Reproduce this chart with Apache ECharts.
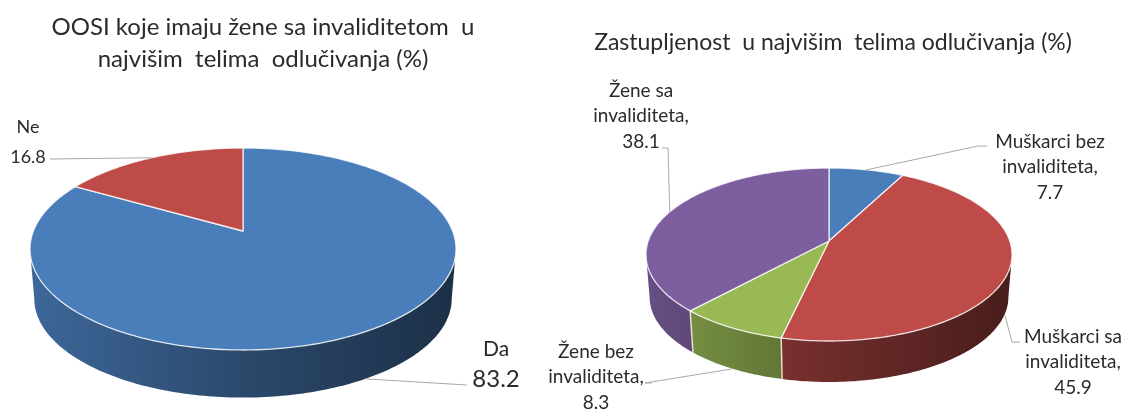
<!DOCTYPE html>
<html><head><meta charset="utf-8">
<style>html,body{margin:0;padding:0;background:#fff}#c{width:1125px;height:410px}</style>
<script src="https://cdn.jsdelivr.net/npm/echarts@6/dist/echarts.min.js"></script>
</head><body><div id="c"></div>
<script>
const leftCategories = ['Da', 'Ne'];
const leftValues = [83.2, 16.8];
const leftColors = ['#4A7EBB', '#BE4B48'];
const rightCategories = ['Muškarci bez\ninvaliditeta,', 'Muškarci sa\ninvaliditeta,', 'Žene bez\ninvaliditeta,', 'Žene sa\ninvaliditeta,'];
const rightValues = [7.7, 45.9, 8.3, 38.1];
const rightColors = ['#4A7EBB', '#BE4B48', '#98B954', '#7D5FA0'];
const leftTitle = 'OOSI koje imaju žene sa invaliditetom  u\nnajvišim  telima  odlučivanja (%)';
const rightTitle = 'Zastupljenost  u najvišim  telima odlučivanja (%)';

const FONT = 'Lato, "Open Sans", sans-serif';
const TXT = '#2b2b2b', LINE = '#a8a8a8';

const leftPie = {cx:243, cy:231, a:209.6, b:97.8, k:0.178, d:50, s:0.98};
const rightPie = {cx:829, cy:241, a:180.8, b:84.4, k:0.156, d:43, s:0.98};

// label placement & leader elbows per slice
const leftLabels = [
  {x:496, y:364, custom:[{t:'Da',size:21,dy:-15},{t:'83.2',size:24,dy:15}], path:[[467,385]]},
  {x:28, y:142, custom:[{t:'Ne',size:18,dy:-15},{t:'16.8',size:18,dy:15}], path:[[50,159]]}
];
const rightLabels = [
  {x:1050, y:167, path:[[987,146],[978,146]]},
  {x:1073, y:362, path:[[1020,342],[1012,342]]},
  {x:596, y:377, path:[[652,383],[645,383]]},
  {x:641, y:116, path:[[662,148],[668,148]]}
];

function proj(p, frac, bottom) {
  const t = frac * 2 * Math.PI, u = Math.sin(t), v = -Math.cos(t), w = 1 - p.k * v;
  const x = p.a * u / w, y = p.b * v / w;
  return bottom ? [p.cx + x * p.s, p.cy + y * p.s + p.d] : [p.cx + x, p.cy + y];
}
function arc(p, f0, f1, bottom) {
  const n = Math.max(2, Math.ceil((f1 - f0) * 360)), out = [];
  for (let i = 0; i <= n; i++) out.push(proj(p, f0 + (f1 - f0) * i / n, bottom));
  return out;
}
function shade(hex, m) {
  const n = parseInt(hex.slice(1), 16);
  return 'rgb(' + [(n >> 16) & 255, (n >> 8) & 255, n & 255].map(c => Math.round(c * m)).join(',') + ')';
}
function spans(values) {
  const total = values.reduce((a, b) => a + b, 0);
  let acc = 0;
  return values.map(v => { const f0 = acc / total; acc += v; return [f0, acc / total]; });
}
function frontRange(p, f0, f1) { // visible part of the wall, between the two silhouette points
  const lo = Math.acos(-p.k) / (2 * Math.PI), hi = 1 - lo;
  const a = Math.max(f0, lo), b = Math.min(f1, hi);
  return a < b ? [a, b] : null;
}
function wallSeries(p, values, colors) {
  const sp = spans(values);
  return {
    type:'custom', coordinateSystem:'none', silent:true, z:2, animation:false, data:values,
    renderItem(params) {
      const i = params.dataIndex, r = frontRange(p, sp[i][0], sp[i][1]);
      if (!r) return {type:'group', children:[]};
      const poly = arc(p, r[0], r[1], false).concat(arc(p, r[0], r[1], true).reverse());
      const c = colors[i], kids = [{
        type:'polygon', shape:{points:poly},
        style:{fill:{type:'linear', global:true, x:p.cx - p.a, y:0, x2:p.cx + p.a, y2:0,
          colorStops:[{offset:0, color:shade(c, .82)}, {offset:.5, color:shade(c, .58)}, {offset:1, color:shade(c, .38)}]}}
      }];
      if (sp[i][0] > 0.25 && sp[i][0] < 0.75) kids.push({type:'polyline',
        shape:{points:[proj(p, sp[i][0], false), proj(p, sp[i][0], true)]},
        style:{stroke:'rgba(255,250,225,.8)', lineWidth:1.5, fill:null}});
      return {type:'group', children:kids};
    }
  };
}
function topSeries(p, values, colors) {
  const sp = spans(values);
  return {
    type:'custom', coordinateSystem:'none', silent:true, z:3, animation:false, data:values,
    renderItem(params) {
      const i = params.dataIndex;
      const pts = [[p.cx, p.cy]].concat(arc(p, sp[i][0], sp[i][1], false));
      return {type:'polygon', shape:{points:pts},
        style:{fill:colors[i], stroke:'rgba(255,255,255,.8)', lineWidth:1.3, lineJoin:'round'}};
    }
  };
}
function labelSeries(p, values, cats, labels) {
  const sp = spans(values);
  return {
    type:'custom', coordinateSystem:'none', silent:true, z:4, animation:false, data:values,
    renderItem(params, api) {
      const i = params.dataIndex, mid = (sp[i][0] + sp[i][1]) / 2, L = labels[i];
      const front = -Math.cos(mid * 2 * Math.PI) > 0;
      const pts = L.path.concat([proj(p, mid, front)]);
      const kids = [{type:'polyline', shape:{points:pts}, style:{stroke:LINE, lineWidth:1, fill:null}}];
      if (L.custom) {
        L.custom.forEach(c => kids.push({type:'text', style:{x:L.x, y:L.y + c.dy, text:c.t, align:'center',
          verticalAlign:'middle', fill:TXT, font:c.size + 'px ' + FONT}}));
      } else {
        kids.push({type:'text', style:{x:L.x, y:L.y, text:cats[i] + '\n' + api.value(0), align:'center',
          verticalAlign:'middle', fill:TXT, font:'19px ' + FONT, lineHeight:25.5}});
      }
      return {type:'group', children:kids};
    }
  };
}
const chart = echarts.init(document.getElementById('c'), null, {renderer:'canvas'});
chart.setOption({
  backgroundColor:'#fff',
  animation:false,
  title:[
    {text:leftTitle, left:258, top:6, textAlign:'center',
     textStyle:{fontFamily:FONT, fontWeight:'normal', fontSize:24, lineHeight:32, color:TXT}},
    {text:rightTitle, left:828, top:24, textAlign:'center',
     textStyle:{fontFamily:FONT, fontWeight:'normal', fontSize:23, lineHeight:28, color:TXT}}
  ],
  series:[
    wallSeries(leftPie, leftValues, leftColors),
    topSeries(leftPie, leftValues, leftColors),
    labelSeries(leftPie, leftValues, leftCategories, leftLabels),
    wallSeries(rightPie, rightValues, rightColors),
    topSeries(rightPie, rightValues, rightColors),
    labelSeries(rightPie, rightValues, rightCategories, rightLabels)
  ]
});
</script></body></html>
